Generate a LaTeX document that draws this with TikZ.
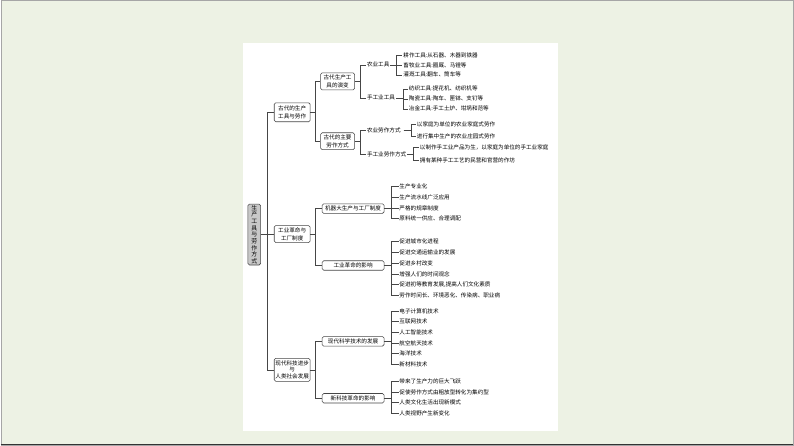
\documentclass[tikz,border=0pt]{standalone}
\usepackage{fontspec}
\setmainfont{Noto Sans CJK SC}
\definecolor{pagebg}{RGB}{237,242,228}
\definecolor{linegray}{RGB}{70,70,70}
\definecolor{rootfill}{RGB}{200,200,200}

\begin{document}
\begin{tikzpicture}[x=1pt,y=-1pt,
  every node/.style={font=\fontsize{5.6}{6.6}\selectfont, text=black},
  box/.style={draw=linegray, rounded corners=1.5pt, fill=white, inner sep=1pt, align=center, line width=0.55pt},
  rootbox/.style={box, fill=rootfill},
  leaf/.style={anchor=west, inner sep=0.8pt},
  link/.style={draw=linegray, line width=0.55pt}]

%\clip(0,0) rectangle (794,446);
  \fill[pagebg] (0,0) rectangle (794,446);
  \fill[white] (243,43) rectangle (558,432);
  \draw[gray!70, line width=0.6pt] (0.3,0.3) rectangle (793.7,445.7);
  \draw[black!80, line width=1.5pt] (0,445.2) -- (794,445.2);
  \useasboundingbox (0,0) rectangle (794,446);

  % bars
  \coordinate (b0) at (267,0);
  \coordinate (b1) at (315,0);
  \coordinate (b11) at (360.5,0);
  \coordinate (b111) at (396.5,0);
  \coordinate (b112) at (403.5,0);
  \coordinate (b121) at (411.6,0);
  \coordinate (b122) at (413.7,0);
  \coordinate (b2) at (391.4,0);

  \node[rootbox, minimum width=12.7, minimum height=61, font=\fontsize{5.9}{6.7}\selectfont] (n0) at (254,235) {生\\产\\工\\具\\与\\劳\\作\\方\\式};

  \node[box, minimum width=36, minimum height=19, font=\fontsize{5.6}{8.5}\selectfont] (n1) at (292,112.5) {古代的生产\\工具与劳作};
  \node[box, minimum width=36, minimum height=17, font=\fontsize{5.6}{8}\selectfont] (n2) at (292,234.5) {工业革命与\\工厂制度};
  \node[box, minimum width=36, minimum height=23, font=\fontsize{5.6}{6.8}\selectfont] (n3) at (292,370.5) {现代科技进步\\与\\人类社会发展};

  \node[box, minimum width=34, minimum height=17, font=\fontsize{5.6}{7.5}\selectfont] (n11) at (337.5,81.5) {古代生产工\\具的演变};
  \node[box, minimum width=34, minimum height=17, font=\fontsize{5.6}{7.5}\selectfont] (n12) at (337.5,141.5) {古代的主要\\劳作方式};
  \node[box, minimum width=62, minimum height=9.5] (n21) at (353,209) {机器大生产与工厂制度};
  \node[box, minimum width=62, minimum height=9.5] (n22) at (353,266) {工业革命的影响};
  \node[box, minimum width=62, minimum height=9.5] (n31) at (353,342) {现代科学技术的发展};
  \node[box, minimum width=62, minimum height=9.5] (n32) at (353,399) {新科技革命的影响};

  \node[leaf] (n111) at (366,65) {农业工具};
  \node[leaf] (n112) at (366,98) {手工业工具};
  \node[leaf] (n121) at (366,131) {农业劳作方式};
  \node[leaf] (n122) at (366,155) {手工业劳作方式};

  \node[leaf] (n1111) at (402.5,55) {耕作工具:从石器、木器到铁器};
  \node[leaf] (n1112) at (402.5,65) {畜牧业工具:圈厩、马镫等};
  \node[leaf] (n1113) at (402.5,75) {灌溉工具:翻车、筒车等};
  \node[leaf] (n1121) at (408,89) {纺织工具:提花机、纺织机等};
  \node[leaf] (n1122) at (408,99) {陶瓷工具:陶车、匣钵、支钉等};
  \node[leaf] (n1123) at (408,109) {冶金工具:手工土炉、坩埚和范等};
  \node[leaf] (n1211) at (416,125) {以家庭为单位的农业家庭式劳作};
  \node[leaf] (n1212) at (416,137) {进行集中生产的农业庄园式劳作};
  \node[leaf] (n1221) at (419,148) {以制作手工业产品为生，以家庭为单位的手工业家庭};
  \node[leaf] (n1222) at (419,161) {拥有某种手工工艺的民营和官营的作坊};

  \node[leaf] (n211) at (398.5,187) {生产专业化};
  \node[leaf] (n212) at (398.5,198) {生产流水线广泛应用};
  \node[leaf] (n213) at (398.5,209) {严格的规章制度};
  \node[leaf] (n214) at (398.5,219) {原料统一供应、合理调配};
  \node[leaf] (n221) at (398.5,242) {促进城市化进程};
  \node[leaf] (n222) at (398.5,253) {促进交通运输业的发展};
  \node[leaf] (n223) at (398.5,264) {促进乡村改变};
  \node[leaf] (n224) at (398.5,275) {增强人们的时间观念};
  \node[leaf] (n225) at (398.5,285) {促进初等教育发展,提高人们文化素质};
  \node[leaf] (n226) at (398.5,296) {劳作时间长、环境恶化、传染病、职业病};
  \node[leaf] (n311) at (398.5,312) {电子计算机技术};
  \node[leaf] (n312) at (398.5,322) {互联网技术};
  \node[leaf] (n313) at (398.5,333) {人工智能技术};
  \node[leaf] (n314) at (398.5,344) {航空航天技术};
  \node[leaf] (n315) at (398.5,354) {海洋技术};
  \node[leaf] (n316) at (398.5,365) {新材料技术};
  \node[leaf] (n321) at (398.5,382) {带来了生产力的巨大飞跃};
  \node[leaf] (n322) at (398.5,393) {促使劳作方式由粗放型转化为集约型};
  \node[leaf] (n323) at (398.5,403) {人类文化生活出现新模式};
  \node[leaf] (n324) at (398.5,414) {人类视野产生新变化};

  \foreach \c in {n1,n2,n3}
    \draw[link] (n0.east) -- (n0.east -| b0) |- (\c.west);
  \foreach \p/\c in {n1/n11,n1/n12,n2/n21,n2/n22,n3/n31,n3/n32}
    \draw[link] (\p.east) -- (\p.east -| b1) |- (\c.west);
  \foreach \p/\c in {n11/n111,n11/n112,n12/n121,n12/n122}
    \draw[link] (\p.east) -- (\p.east -| b11) |- (\c.west);
  \foreach \c in {n1111,n1112,n1113}
    \draw[link] (n111.east) -- (n111.east -| b111) |- (\c.west);
  \foreach \c in {n1121,n1122,n1123}
    \draw[link] (n112.east) -- (n112.east -| b112) |- (\c.west);
  \foreach \c in {n1211,n1212}
    \draw[link] ([xshift=2pt]n121.east) -- (n121.east -| b121) |- (\c.west);
  \foreach \c in {n1221,n1222}
    \draw[link] (n122.east) -- (n122.east -| b122) |- (\c.west);
  \foreach \c in {n211,n212,n213,n214}
    \draw[link] (n21.east) -- (n21.east -| b2) |- (\c.west);
  \foreach \c in {n221,n222,n223,n224,n225,n226}
    \draw[link] (n22.east) -- (n22.east -| b2) |- (\c.west);
  \foreach \c in {n311,n312,n313,n314,n315,n316}
    \draw[link] (n31.east) -- (n31.east -| b2) |- (\c.west);
  \foreach \c in {n321,n322,n323,n324}
    \draw[link] (n32.east) -- (n32.east -| b2) |- (\c.west);
 \end{tikzpicture}
\end{document}
